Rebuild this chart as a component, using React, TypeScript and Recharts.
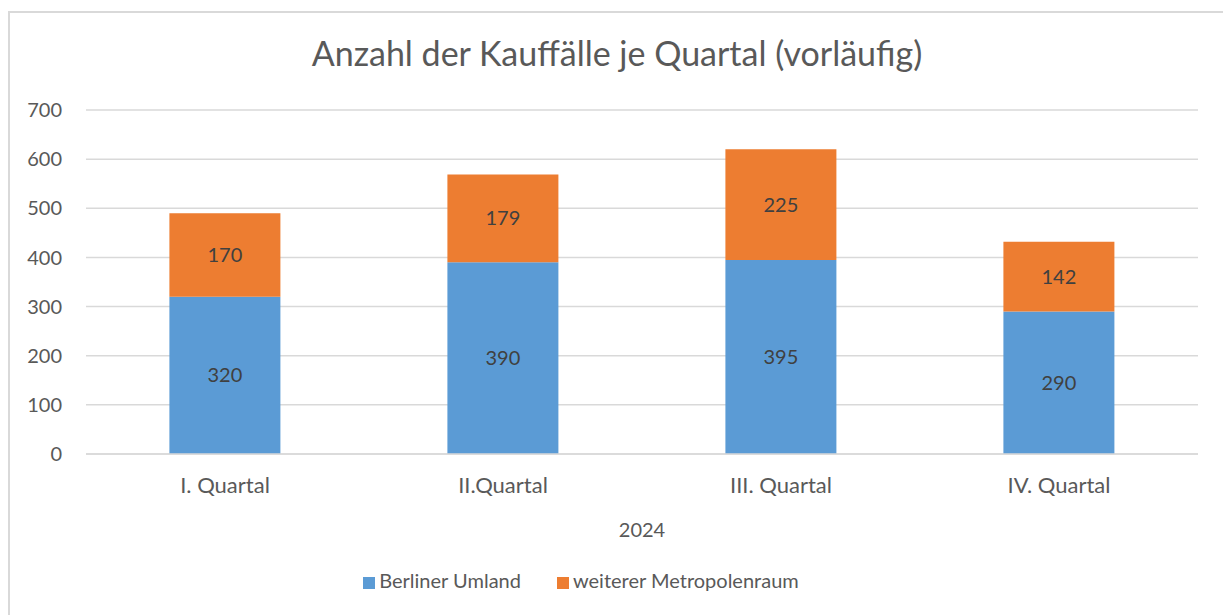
import { BarChart, Bar, XAxis, YAxis, CartesianGrid, Legend, LabelList } from "recharts";

const QUARTALE = ["I. Quartal", "II.Quartal", "III. Quartal", "IV. Quartal"];
const BERLINER_UMLAND = [320, 390, 395, 290];
const WEITERER_METROPOLENRAUM = [170, 179, 225, 142];
const Y_TICKS = [0, 100, 200, 300, 400, 500, 600, 700];

const FONT = "Lato, 'Open Sans', sans-serif";
const TEXT = "#595959";

const data = QUARTALE.map((q, i) => ({
  quartal: q,
  umland: BERLINER_UMLAND[i],
  metro: WEITERER_METROPOLENRAUM[i],
}));

export default function App() {
  return (
    <div
      style={{
        position: "absolute",
        left: 0,
        top: 0,
        width: 1223,
        height: 615,
        overflow: "hidden",
        background: "white",
        fontFamily: FONT,
      }}
    >
      <div
        style={{
          position: "absolute",
          left: 8,
          top: 11,
          width: 1240,
          height: 640,
          border: "2px solid #d9d9d9",
        }}
      />
      <div
        style={{
          position: "absolute",
          left: 0,
          width: 1234,
          top: 33,
          textAlign: "center",
          fontSize: 34,
          lineHeight: "40px",
          color: TEXT,
        }}
      >
        Anzahl der Kauffälle je Quartal (vorläufig)
      </div>
      <div style={{ position: "absolute", left: 0, top: 0 }}>
        <BarChart
          width={1223}
          height={615}
          data={data}
          margin={{ top: 110, right: 25, bottom: 17, left: 0 }}
          barCategoryGap="30%"
        >
          <CartesianGrid vertical={false} stroke="#d9d9d9" strokeWidth={1.5} />
          <XAxis
            dataKey="quartal"
            height={114}
            tickLine={false}
            tickSize={0}
            tickMargin={23}
            axisLine={{ stroke: "#d9d9d9", strokeWidth: 1.5 }}
            tick={{ fill: TEXT, fontSize: 22, fontFamily: FONT }}
            label={{
              value: "2024",
              position: "insideBottom",
              offset: 31,
              fill: TEXT,
              fontSize: 20,
              fontFamily: FONT,
            }}
          />
          <YAxis
            width={86}
            domain={[0, 700]}
            ticks={Y_TICKS}
            axisLine={false}
            tickLine={false}
            tickSize={0}
            tickMargin={24}
            tick={{ fill: TEXT, fontSize: 20, fontFamily: FONT }}
          />
          <Legend
            iconType="square"
            iconSize={12}
            wrapperStyle={{ height: 30, fontFamily: FONT, fontSize: 20 }}
            formatter={(value) => (
              <span style={{ color: TEXT, marginRight: 26 }}>{value}</span>
            )}
          />
          <Bar
            dataKey="umland"
            name="Berliner Umland"
            stackId="a"
            fill="#5B9BD5"
            isAnimationActive={false}
          >
            <LabelList
              dataKey="umland"
              position="center"
              fill="#404040"
              fontSize={20}
              fontFamily={FONT}
            />
          </Bar>
          <Bar
            dataKey="metro"
            name="weiterer Metropolenraum"
            stackId="a"
            fill="#ED7D31"
            isAnimationActive={false}
          >
            <LabelList
              dataKey="metro"
              position="center"
              fill="#404040"
              fontSize={20}
              fontFamily={FONT}
            />
          </Bar>
        </BarChart>
      </div>
    </div>
  );
}
